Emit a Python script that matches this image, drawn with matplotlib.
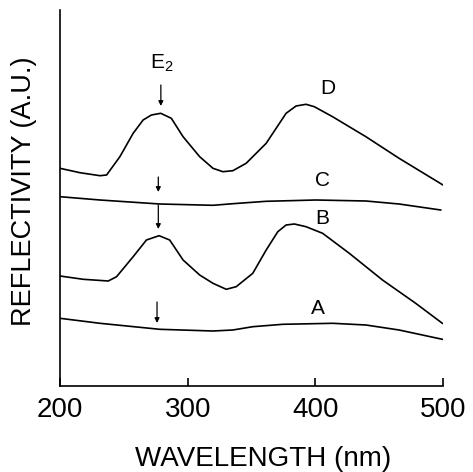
import matplotlib
matplotlib.use("Agg")
import matplotlib.pyplot as plt
import numpy as np

# wavelength (nm) and reflectivity (arbitrary units)
wl_d = [200, 215.6, 231.3, 236.5, 246.9, 257.3, 265.1, 271.6, 278.9, 287.2, 296.4,
        309.4, 319.8, 327.6, 335.4, 345.8, 361.5, 371.9, 377.1, 384.9, 392.7, 399.2,
        413.5, 439.6, 465.6, 500]
r_d = [217.7, 213.3, 210.3, 211, 229.3, 252.7, 266, 271, 272.7, 267.7, 249.3,
       229.3, 217.7, 214.3, 215.3, 222.7, 242.7, 262.7, 272.7, 280, 281.7, 279.3,
       269.3, 249.3, 227.7, 201]

wl_c = [200, 231.3, 278.1, 319.8, 335.4, 361.5, 400.5, 439.6, 465.6, 498.2]
r_c = [189.3, 186, 182, 180.7, 182.3, 184.7, 186, 185, 182, 176]

wl_b = [200, 218.2, 237.8, 244.3, 257.3, 267.7, 277.6, 285.9, 296.4, 309.4, 319.8,
        330.2, 338, 351, 361.5, 370.6, 377.1, 383.6, 392.7, 405.7, 426.6, 452.6,
        478.6, 499.5]
r_b = [110, 106.7, 105, 109.3, 129.3, 146, 150.3, 146, 126, 111, 102.7,
       96.7, 99.3, 112.7, 136, 154.3, 161, 162, 159.3, 152.7, 132.7, 106,
       82.7, 62.7]

wl_a = [200, 231.3, 278.1, 319.8, 335.4, 351, 374.5, 413.5, 439.6, 465.6, 499.5]
r_a = [67.7, 62.7, 56.7, 55, 56, 59.3, 61.7, 62.7, 61, 56, 46.7]

curve_names = ["A", "B", "C", "D"]
label_pos = [(401.8, 77.7), (405.7, 167.7), (405.7, 206), (409.6, 297.7)]
# E2 arrows: x, arrow top, arrow tip
arrows = [(276, 84, 63), (277, 181, 157), (277, 209, 194), (279, 301, 280)]

plt.rcParams['font.family'] = ['Liberation Sans', 'DejaVu Sans']
plt.rcParams['mathtext.default'] = 'regular'

fig = plt.figure(figsize=(4.73, 4.72), dpi=100)
ax = fig.add_axes([60 / 473, 86 / 472, 383 / 473, 376 / 472])

for wl, r in [(wl_a, r_a), (wl_b, r_b), (wl_c, r_c), (wl_d, r_d)]:
    ax.plot(wl, r, color='black', lw=1.2, solid_joinstyle='round')

for name, (x, y) in zip(curve_names, label_pos):
    ax.text(x, y, name, fontsize=15, ha='center', va='center')

for x, y0, y1 in arrows:
    ax.annotate("", xy=(x, y1), xytext=(x, y0),
                arrowprops=dict(arrowstyle='-|>', color='black', lw=0.9,
                                mutation_scale=7, shrinkA=0, shrinkB=0))

ax.text(279.5, 323, r"$\mathregular{E_2}$", fontsize=15, ha='center', va='center')

ax.set_xlim(200, 500)
ax.set_ylim(0, 376)
ax.set_xticks([200, 300, 400, 500])
ax.tick_params(axis='x', direction='in', length=6, width=1.2, labelsize=20, pad=8)
ax.set_yticks([])
ax.spines['top'].set_visible(False)
ax.spines['right'].set_visible(False)
ax.spines['left'].set_linewidth(1.2)
ax.spines['bottom'].set_linewidth(1.2)

ax.set_xlabel("WAVELENGTH (nm)", fontsize=20)
ax.xaxis.set_label_coords(0.53, -0.16)
ax.set_ylabel("REFLECTIVITY (A.U.)", fontsize=19.5)
ax.yaxis.set_label_coords(-0.06, 0.519)

fig.savefig("out.png", dpi=100)
